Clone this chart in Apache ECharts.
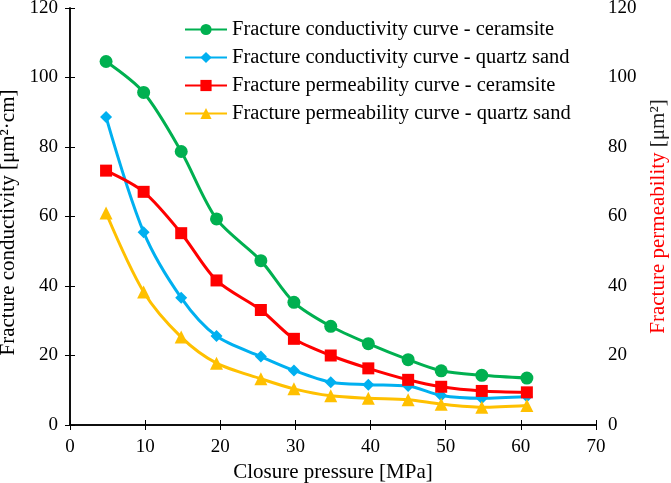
<!DOCTYPE html>
<html><head><meta charset="utf-8">
<script src="https://cdn.jsdelivr.net/npm/echarts@6/dist/echarts.min.js"></script>
<style>html,body{margin:0;padding:0;background:#fff}#c{width:671px;height:483px}</style>
</head><body><div id="c"></div>
<script>
var pressure = [4.8, 9.8, 14.8, 19.5, 25.4, 29.8, 34.7, 39.7, 45.0, 49.4, 54.8, 60.8];
var condCeramsite = [104.6, 95.7, 78.7, 59.3, 47.3, 35.3, 28.4, 23.4, 18.8, 15.6, 14.3, 13.5];
var condQuartz = [88.6, 55.5, 36.6, 25.6, 19.7, 15.7, 12.3, 11.6, 11.2, 8.5, 7.7, 8.2];
var permCeramsite = [73.2, 67.1, 55.2, 41.6, 33.1, 24.8, 20.0, 16.3, 13.0, 11.0, 9.8, 9.4];
var permQuartz = [61.0, 38.3, 25.3, 17.8, 13.3, 10.4, 8.4, 7.7, 7.3, 6.0, 5.1, 5.6];
var seriesNames = ['Fracture conductivity curve - ceramsite','Fracture conductivity curve - quartz sand','Fracture permeability curve - ceramsite','Fracture permeability curve - quartz sand'];

function pairs(ys){ return pressure.map(function(x,i){return [x, ys[i]];}); }
var F = '"Liberation Serif","Times New Roman",serif';
var axisLine = {show:true, lineStyle:{color:'#000', width:1.5}};
var chart = echarts.init(document.getElementById('c'));
function mk(name, data, color, symbol, size, yIdx){
  return {name:name, type:'line', data:pairs(data), yAxisIndex:yIdx, smooth:0.3,
    symbol:symbol, symbolSize:size, showAllSymbol:true,
    lineStyle:{color:color, width:3}, itemStyle:{color:color}};
}
chart.setOption({
  animation:false,
  textStyle:{fontFamily:F},
  grid:{left:70, right:75, top:8, bottom:58, containLabel:false, outerBoundsMode:'none'},
  legend:{left:179, top:14, orient:'vertical', itemWidth:42, itemHeight:14, itemGap:7,
    textStyle:{fontFamily:F, fontSize:20.5, color:'#000'}, data:seriesNames},
  xAxis:[{type:'value', min:0, max:70, interval:10, axisLine:axisLine,
    axisTick:{inside:true, length:5, lineStyle:{color:'#000'}}, splitLine:{show:false},
    axisLabel:{fontFamily:F, fontSize:19, color:'#000', margin:13},
    name:'Closure pressure [MPa]', nameLocation:'middle', nameGap:35,
    nameTextStyle:{fontFamily:F, fontSize:21, color:'#000'}},
   {type:'value', position:'top', min:0, max:70, interval:10, axisLine:axisLine,
    axisTick:{inside:true, length:5, lineStyle:{color:'#000'}}, axisLabel:{show:false}, splitLine:{show:false}}],
  yAxis:[{type:'value', min:0, max:120, interval:20, axisLine:axisLine,
    axisTick:{inside:true, length:5, lineStyle:{color:'#000'}}, splitLine:{show:false},
    axisLabel:{fontFamily:F, fontSize:19, color:'#000', margin:12},
    name:'Fracture conductivity [μm²·cm]', nameLocation:'middle', nameGap:42, nameRotate:90,
    nameTextStyle:{fontFamily:F, fontSize:21, color:'#000', padding:[0,12,0,0]}},
   {type:'value', position:'right', min:0, max:120, interval:20, axisLine:axisLine,
    axisTick:{inside:true, length:5, lineStyle:{color:'#000'}}, splitLine:{show:false},
    axisLabel:{fontFamily:F, fontSize:19, color:'#000', margin:12},
    name:'{r|Fracture permeability} {b|[μm²]}', nameLocation:'middle', nameGap:52, nameRotate:90,
    nameTextStyle:{fontFamily:F, fontSize:21, rich:{r:{fontFamily:F, fontSize:21, color:'#ff0000'}, b:{fontFamily:F, fontSize:21, color:'#222'}}}}],
  series:[
    mk(seriesNames[0], condCeramsite, '#00b050', 'circle', 13, 0),
    mk(seriesNames[1], condQuartz, '#00b0f0', 'diamond', 12, 0),
    mk(seriesNames[2], permCeramsite, '#ff0000', 'rect', 12, 1),
    mk(seriesNames[3], permQuartz, '#ffc000', 'triangle', 13, 1)
  ]
});
</script></body></html>
